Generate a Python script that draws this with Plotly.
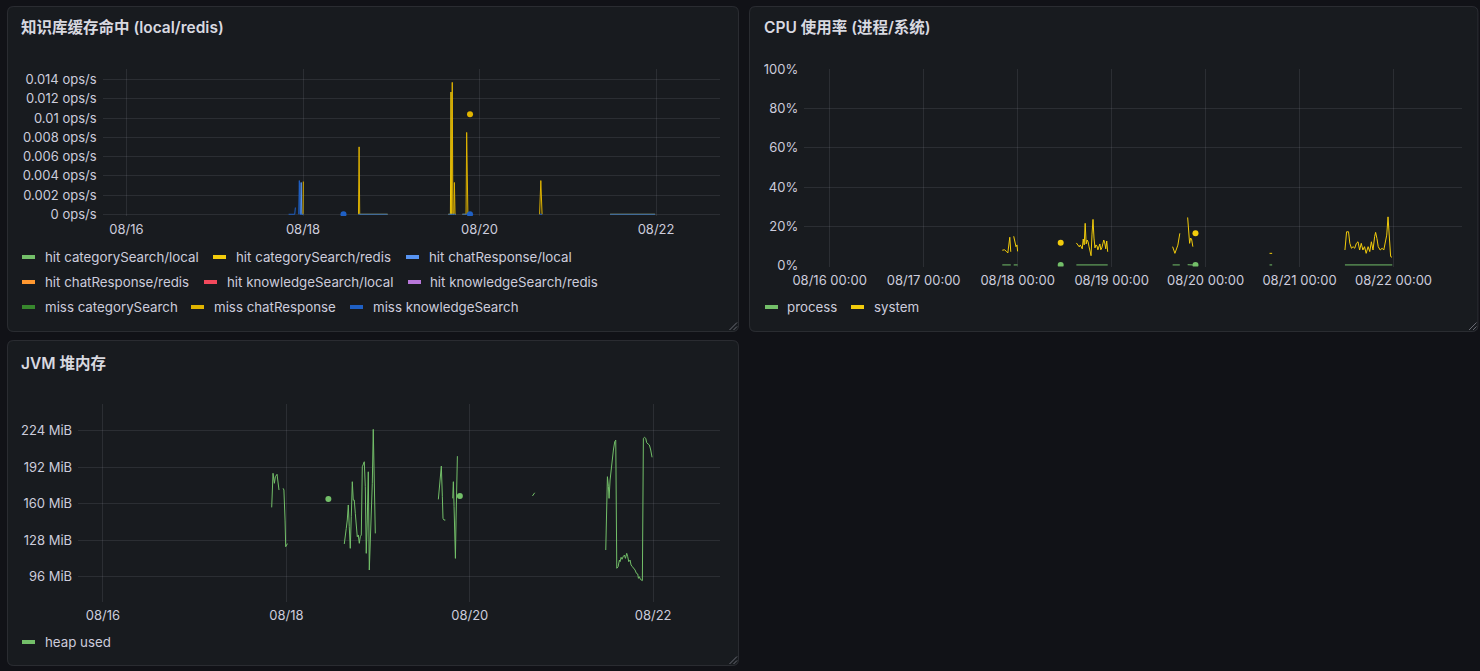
import plotly.graph_objects as go

W, H = 1480, 671
YEAR = "2025"
X_RANGE = ["2025-08-15 17:30", "2025-08-22 17:30"]

FONT = "Inter, 'Noto Sans CJK SC', sans-serif"
TEXT = "#ccccdc"
TITLE_TEXT = "#d8d9e0"
GRID = "rgba(204,204,220,0.11)"

# ---- panel 1: 知识库缓存命中, ops/s; every series is a list of unbroken runs
CACHE_TITLE = "知识库缓存命中 (local/redis)"
CACHE_NAMES = [
    "hit categorySearch/local", "hit categorySearch/redis", "hit chatResponse/local",
    "hit chatResponse/redis", "hit knowledgeSearch/local", "hit knowledgeSearch/redis",
    "miss categorySearch", "miss chatResponse", "miss knowledgeSearch",
]
CACHE_COLORS = ["#73BF69", "#F2CC0C", "#5794F2", "#FF9830", "#F2495C", "#B877D9",
                "#37872D", "#E0B400", "#1F60C4"]

HIT_CATEGORY_LOCAL = []
HIT_CATEGORY_REDIS = [
    [("08-19 16:05", 0), ("08-19 16:15", 0.0127), ("08-19 16:25", 0)],
]
HIT_CHAT_LOCAL = [
    [("08-17 23:20", 0), ("08-17 23:30", 0.0033), ("08-17 23:40", 0)],
]
HIT_CHAT_REDIS = []
HIT_KNOWLEDGE_LOCAL = []
HIT_KNOWLEDGE_REDIS = []
MISS_CATEGORY = []
MISS_CHAT = [
    [("08-17 23:50", 0), ("08-18 00:00", 0), ("08-18 00:05", 0.0034)],
    [("08-18 15:05", 0), ("08-18 15:15", 0.0070), ("08-18 15:25", 0), ("08-18 23:00", 0)],
    [("08-19 15:30", 0), ("08-19 16:25", 0), ("08-19 16:35", 0.0137), ("08-19 16:45", 0),
     ("08-19 17:00", 0), ("08-19 17:10", 0.0033), ("08-19 17:20", 0), ("08-19 17:30", 0)],
    [("08-19 19:20", 0), ("08-19 20:20", 0), ("08-19 20:30", 0.0085), ("08-19 20:40", 0),
     ("08-19 20:50", 0)],
    [("08-19 21:25", 0.0104)],
    [("08-20 16:20", 0), ("08-20 16:40", 0.0035), ("08-20 17:00", 0)],
    [("08-21 11:30", 0), ("08-21 23:45", 0)],
]
MISS_KNOWLEDGE = [
    [("08-17 20:05", 0), ("08-17 20:40", 0), ("08-17 21:20", 0), ("08-17 21:45", 0),
     ("08-17 21:55", 0.0007)],
    [("08-17 22:50", 0), ("08-17 23:00", 0.0035), ("08-17 23:10", 0), ("08-17 23:40", 0),
     ("08-18 00:05", 0)],
    [("08-18 11:00", 0)],
    [("08-18 15:05", 0), ("08-18 19:00", 0), ("08-18 23:00", 0)],
    [("08-19 15:30", 0), ("08-19 17:30", 0)],
    [("08-19 19:20", 0), ("08-19 20:50", 0)],
    [("08-19 21:25", 0)],
    [("08-20 16:20", 0), ("08-20 17:00", 0)],
    [("08-21 11:30", 0), ("08-21 17:30", 0), ("08-21 23:45", 0)],
]
CACHE_SERIES = [HIT_CATEGORY_LOCAL, HIT_CATEGORY_REDIS, HIT_CHAT_LOCAL, HIT_CHAT_REDIS,
                HIT_KNOWLEDGE_LOCAL, HIT_KNOWLEDGE_REDIS, MISS_CATEGORY, MISS_CHAT,
                MISS_KNOWLEDGE]
CACHE_TICKS = [0, 0.002, 0.004, 0.006, 0.008, 0.01, 0.012, 0.014]
CACHE_TICK_TEXT = ["0 ops/s", "0.002 ops/s", "0.004 ops/s", "0.006 ops/s", "0.008 ops/s",
                   "0.01 ops/s", "0.012 ops/s", "0.014 ops/s"]

# ---- panel 2: CPU 使用率, percent
CPU_TITLE = "CPU 使用率 (进程/系统)"
CPU_NAMES = ["process", "system"]
CPU_COLORS = ["#73BF69", "#F2CC0C"]
PROCESS_CPU = [
    [("08-17 20:05", 0.3), ("08-17 22:15", 0.3)],
    [("08-17 23:00", 0.3), ("08-18 00:00", 0.3)],
    [("08-18 11:00", 0.3)],
    [("08-18 15:00", 0.3), ("08-18 19:00", 0.4), ("08-18 23:00", 0.3)],
    [("08-19 15:35", 0.3), ("08-19 17:25", 0.3)],
    [("08-19 19:25", 0.4), ("08-19 20:45", 0.3)],
    [("08-19 21:25", 0.3)],
    [("08-20 16:20", 0.3), ("08-20 17:00", 0.3)],
    [("08-21 11:35", 0.3), ("08-21 17:30", 0.4), ("08-21 23:40", 0.3)],
]
SYSTEM_CPU = [
    [("08-17 20:05", 7.8), ("08-17 20:40", 8.0), ("08-17 21:05", 7.3), ("08-17 21:30", 6.4),
     ("08-17 22:00", 14.4), ("08-17 22:15", 7.0)],
    [("08-17 23:00", 14.9), ("08-17 23:15", 12.5), ("08-17 23:35", 9.6), ("08-17 23:50", 10.5),
     ("08-18 00:00", 7.2)],
    [("08-18 11:00", 11.6)],
    [("08-18 15:00", 11.5), ("08-18 15:15", 11.0), ("08-18 15:30", 10.0), ("08-18 15:45", 9.5),
     ("08-18 16:00", 10.5), ("08-18 16:15", 9.0), ("08-18 16:30", 8.5), ("08-18 16:45", 13.5),
     ("08-18 17:00", 10.5), ("08-18 17:15", 21.5), ("08-18 17:30", 11.0), ("08-18 17:45", 13.0),
     ("08-18 18:00", 12.0), ("08-18 18:15", 9.5), ("08-18 18:30", 6.0), ("08-18 18:45", 5.0),
     ("08-18 19:00", 16.0), ("08-18 19:15", 23.5), ("08-18 19:30", 14.0), ("08-18 19:45", 9.0),
     ("08-18 20:00", 10.5), ("08-18 20:15", 10.0), ("08-18 20:30", 8.0), ("08-18 20:45", 9.5),
     ("08-18 21:00", 11.0), ("08-18 21:15", 8.0), ("08-18 21:30", 9.0), ("08-18 21:45", 11.0),
     ("08-18 22:00", 13.0), ("08-18 22:15", 11.5), ("08-18 22:30", 8.5), ("08-18 22:45", 12.5),
     ("08-18 23:00", 7.0)],
    [("08-19 15:35", 9.6), ("08-19 16:10", 6.2), ("08-19 16:55", 10.4), ("08-19 17:25", 16.4)],
    [("08-19 19:25", 24.5), ("08-19 19:40", 17.0), ("08-19 19:55", 11.3), ("08-19 20:10", 14.0),
     ("08-19 20:25", 13.5), ("08-19 20:45", 9.6)],
    [("08-19 21:25", 16.4)],
    [("08-20 16:20", 6.2), ("08-20 17:00", 6.2)],
    [("08-21 11:35", 7.9), ("08-21 12:00", 17.2), ("08-21 12:30", 17.2), ("08-21 12:50", 11.3),
     ("08-21 13:15", 8.8), ("08-21 13:40", 9.6), ("08-21 14:05", 8.8), ("08-21 14:30", 11.3),
     ("08-21 14:55", 12.1), ("08-21 15:20", 7.9), ("08-21 15:45", 11.3), ("08-21 16:10", 7.9),
     ("08-21 16:35", 9.6), ("08-21 17:00", 6.2), ("08-21 17:30", 9.6), ("08-21 17:55", 7.1),
     ("08-21 18:20", 12.1), ("08-21 18:45", 7.9), ("08-21 19:10", 14.7), ("08-21 19:25", 16.9),
     ("08-21 19:45", 13.8), ("08-21 20:05", 9.6), ("08-21 20:35", 7.9), ("08-21 21:05", 8.8),
     ("08-21 21:30", 7.9), ("08-21 21:55", 12.9), ("08-21 22:15", 15.5), ("08-21 22:35", 24.8),
     ("08-21 22:55", 12.9), ("08-21 23:15", 4.6), ("08-21 23:35", 4.2)],
]
CPU_SERIES = [PROCESS_CPU, SYSTEM_CPU]

# ---- panel 3: JVM 堆内存, MiB
HEAP_TITLE = "JVM 堆内存"
HEAP_NAMES = ["heap used"]
HEAP_COLORS = ["#73BF69"]
HEAP_USED = [
    [("08-17 20:10", 156.8), ("08-17 20:31", 186.7), ("08-17 20:52", 177.9), ("08-17 21:08", 183.7),
     ("08-17 21:34", 185.8), ("08-17 22:05", 172.0)],
    [("08-17 23:10", 173.5), ("08-17 23:22", 172.0), ("08-17 23:40", 145.7), ("08-17 23:50", 122.3),
     ("08-18 00:05", 123.8), ("08-18 00:17", 125.0)],
    [("08-18 11:00", 164.1)],
    [("08-18 15:10", 124.7), ("08-18 15:26", 135.5), ("08-18 15:41", 138.4), ("08-18 15:57", 145.7),
     ("08-18 16:13", 158.9), ("08-18 16:28", 139.8), ("08-18 16:44", 120.9), ("08-18 17:00", 148.6),
     ("08-18 17:16", 179.3), ("08-18 17:31", 163.2), ("08-18 17:47", 163.2), ("08-18 18:03", 151.6),
     ("08-18 18:18", 139.8), ("08-18 18:34", 131.1), ("08-18 18:50", 132.6), ("08-18 19:06", 125.3),
     ("08-18 19:21", 131.1), ("08-18 19:37", 132.6), ("08-18 19:53", 192.4), ("08-18 20:08", 195.4),
     ("08-18 20:24", 196.8), ("08-18 20:40", 174.9), ("08-18 20:55", 116.5), ("08-18 21:11", 145.7),
     ("08-18 21:27", 188.0), ("08-18 21:43", 101.9), ("08-18 21:58", 122.3), ("08-18 22:14", 145.7),
     ("08-18 22:30", 177.9), ("08-18 22:45", 225.2), ("08-18 23:01", 189.5), ("08-18 23:17", 134.0)],
    [("08-19 15:47", 163.8), ("08-19 16:03", 174.9), ("08-19 16:19", 186.7), ("08-19 16:34", 193.0),
     ("08-19 16:50", 166.1), ("08-19 17:00", 147.2), ("08-19 17:16", 145.7), ("08-19 17:37", 145.7)],
    [("08-19 19:33", 164.7), ("08-19 19:43", 179.3), ("08-19 19:54", 157.4), ("08-19 20:04", 131.1),
     ("08-19 20:15", 112.1), ("08-19 20:25", 145.7), ("08-19 20:36", 174.9), ("08-19 20:46", 201.7)],
    [("08-19 21:25", 166.8)],
    [("08-20 16:25", 166.8), ("08-20 17:00", 169.6)],
    [("08-21 11:36", 119.4), ("08-21 11:52", 163.2), ("08-21 12:02", 183.7), ("08-21 12:18", 174.9),
     ("08-21 12:28", 164.7), ("08-21 12:44", 180.8), ("08-21 13:00", 191.0), ("08-21 13:15", 199.8),
     ("08-21 13:36", 207.1), ("08-21 13:57", 214.4), ("08-21 14:13", 215.8), ("08-21 14:29", 103.4),
     ("08-21 14:50", 104.8), ("08-21 15:10", 110.6), ("08-21 15:21", 109.2), ("08-21 15:37", 113.0),
     ("08-21 15:52", 111.3), ("08-21 16:08", 113.5), ("08-21 16:29", 115.0), ("08-21 16:45", 112.1),
     ("08-21 17:05", 116.5), ("08-21 17:21", 113.5), ("08-21 17:37", 109.2), ("08-21 17:58", 110.6),
     ("08-21 18:13", 106.3), ("08-21 18:34", 104.8), ("08-21 18:55", 103.4), ("08-21 19:16", 101.9),
     ("08-21 19:37", 99.0), ("08-21 19:58", 98.4), ("08-21 20:09", 94.6), ("08-21 20:24", 96.0),
     ("08-21 20:40", 93.7), ("08-21 20:56", 93.1), ("08-21 21:11", 92.6), ("08-21 21:27", 217.3),
     ("08-21 21:43", 218.2), ("08-21 22:04", 217.3), ("08-21 22:19", 213.5), ("08-21 22:40", 212.4),
     ("08-21 23:01", 211.5), ("08-21 23:22", 207.1), ("08-21 23:43", 200.7)],
]
HEAP_SERIES = [HEAP_USED]
HEAP_TICKS = [96, 128, 160, 192, 224]
HEAP_TICK_TEXT = ["96 MiB", "128 MiB", "160 MiB", "192 MiB", "224 MiB"]


def fx(px):
    return px / W


def fy(py):
    return 1 - py / H


def lines_xy(runs, scale=1.0):
    xs, ys = [], []
    for run in runs:
        if len(run) < 2:
            continue
        for t, v in run:
            xs.append(f"{YEAR}-{t}")
            ys.append(v * scale)
        xs.append(None)
        ys.append(None)
    return xs, ys


def dots_xy(runs, scale=1.0):
    pts = [run[0] for run in runs if len(run) == 1]
    return [f"{YEAR}-{t}" for t, _ in pts], [v * scale for _, v in pts]


fig = go.Figure()


def add_series(series, colors, xa, ya, scale=1.0):
    for runs, color in zip(series, colors):
        xs, ys = lines_xy(runs, scale)
        fig.add_trace(go.Scatter(x=xs, y=ys, mode="lines", xaxis=xa, yaxis=ya,
                                 line=dict(color=color, width=1), connectgaps=False,
                                 hoverinfo="skip", showlegend=False))
        dx, dy = dots_xy(runs, scale)
        if dx:
            fig.add_trace(go.Scatter(x=dx, y=dy, mode="markers", xaxis=xa, yaxis=ya,
                                     marker=dict(color=color, size=6), hoverinfo="skip",
                                     showlegend=False))


add_series(CACHE_SERIES, CACHE_COLORS, "x", "y")
add_series(CPU_SERIES, CPU_COLORS, "x2", "y2", 0.01)
add_series(HEAP_SERIES, HEAP_COLORS, "x3", "y3")

tickfont = dict(family=FONT, size=13, color=TEXT)
xcommon = dict(type="date", range=X_RANGE, showgrid=True, gridcolor=GRID, gridwidth=1,
               zeroline=False, showline=False, ticks="", tickfont=tickfont, automargin=False,
               tick0="2025-08-16", ticklabelstandoff=4, fixedrange=True)
ycommon = dict(showgrid=True, gridcolor=GRID, gridwidth=1, zeroline=False, showline=False,
               ticks="", tickfont=tickfont, ticklabelstandoff=5, fixedrange=True,
               automargin=False)

fig.update_layout(
    xaxis=dict(xcommon, domain=[fx(102.6), fx(720.4)], anchor="y", tickformat="%m/%d",
               dtick=2 * 86400000),
    yaxis=dict(ycommon, domain=[fy(216), fy(69.3)], anchor="x", range=[-0.00018, 0.01506],
               tickvals=CACHE_TICKS, ticktext=CACHE_TICK_TEXT),
    xaxis2=dict(xcommon, domain=[fx(804.2), fx(1462.1)], anchor="y2", tickformat="%m/%d %H:%M",
                dtick=86400000),
    yaxis2=dict(ycommon, domain=[fy(266.5), fy(69.3)], anchor="x2", range=[-0.005, 1.0],
                tickformat=".0%", dtick=0.2, tick0=0),
    xaxis3=dict(xcommon, domain=[fx(78.1), fx(720)], anchor="y3", tickformat="%m/%d",
                dtick=2 * 86400000),
    yaxis3=dict(ycommon, domain=[fy(601.7), fy(403.7)], anchor="x3", range=[74.1, 247.7],
                tickvals=HEAP_TICKS, ticktext=HEAP_TICK_TEXT),
)

# panel frames
PANELS = [(7.5, 6.5, 738.5, 331.5), (749.5, 6.5, 1478, 331.5), (7.5, 340.5, 738.5, 665.5)]


def panel_path(x0, y0, x1, y1, r=6):
    p = lambda x, y: f"{fx(x)},{fy(y)}"
    return (f"M {p(x0 + r, y0)} L {p(x1 - r, y0)} Q {p(x1, y0)} {p(x1, y0 + r)} "
            f"L {p(x1, y1 - r)} Q {p(x1, y1)} {p(x1 - r, y1)} L {p(x0 + r, y1)} "
            f"Q {p(x0, y1)} {p(x0, y1 - r)} L {p(x0, y0 + r)} Q {p(x0, y0)} {p(x0 + r, y0)} Z")


shapes = []
for x0, y0, x1, y1 in PANELS:
    shapes.append(dict(type="path", path=panel_path(x0, y0, x1, y1), xref="paper", yref="paper",
                       fillcolor="#181b1f", line=dict(color="rgba(204,204,220,0.12)", width=1),
                       layer="below"))
    for a in (9, 5):
        shapes.append(dict(type="line", xref="paper", yref="paper",
                           x0=fx(x1 - 1.5), y0=fy(y1 - a), x1=fx(x1 - a), y1=fy(y1 - 1.5),
                           line=dict(color="rgba(204,204,220,0.45)", width=1)))

annotations = []
TITLES = [(CACHE_TITLE, 19, 28), (CPU_TITLE, 762, 28), (HEAP_TITLE, 19, 363)]
for text, x, y in TITLES:
    annotations.append(dict(text=text, x=fx(x), y=fy(y), xref="paper", yref="paper",
                            xanchor="left", yanchor="middle", showarrow=False,
                            font=dict(family=FONT, size=15.5, color=TITLE_TEXT, weight=600)))

# legend rows: (marker left, text left, row centre) in pixels
CACHE_LEGEND_POS = [(21, 43, 257), (212, 234, 257), (405, 427, 257),
                    (21, 43, 282), (203, 225, 282), (407, 428, 282),
                    (21, 43, 307), (190, 212, 307), (349, 371, 307)]
CPU_LEGEND_POS = [(764, 785, 307), (850, 872, 307)]
HEAP_LEGEND_POS = [(21, 43, 642)]

for names, colors, pos in [(CACHE_NAMES, CACHE_COLORS, CACHE_LEGEND_POS),
                           (CPU_NAMES, CPU_COLORS, CPU_LEGEND_POS),
                           (HEAP_NAMES, HEAP_COLORS, HEAP_LEGEND_POS)]:
    for name, color, (mx, tx, y) in zip(names, colors, pos):
        shapes.append(dict(type="line", xref="paper", yref="paper", x0=fx(mx + 1), x1=fx(mx + 14),
                           y0=fy(y), y1=fy(y), line=dict(color=color, width=4)))
        annotations.append(dict(text=name, x=fx(tx), y=fy(y), xref="paper", yref="paper",
                                xanchor="left", yanchor="middle", showarrow=False,
                                font=dict(family=FONT, size=13.3, color=TEXT)))

fig.update_layout(
    width=W, height=H, margin=dict(l=0, r=0, t=0, b=0, pad=0, autoexpand=False),
    paper_bgcolor="#111217", plot_bgcolor="rgba(0,0,0,0)",
    shapes=shapes, annotations=annotations, showlegend=False,
    font=dict(family=FONT, color=TEXT),
)

fig.write_html("out.html", config={"displayModeBar": False},
               post_script="document.body.style.margin='0';"
                           "document.body.style.background='#111217';")
